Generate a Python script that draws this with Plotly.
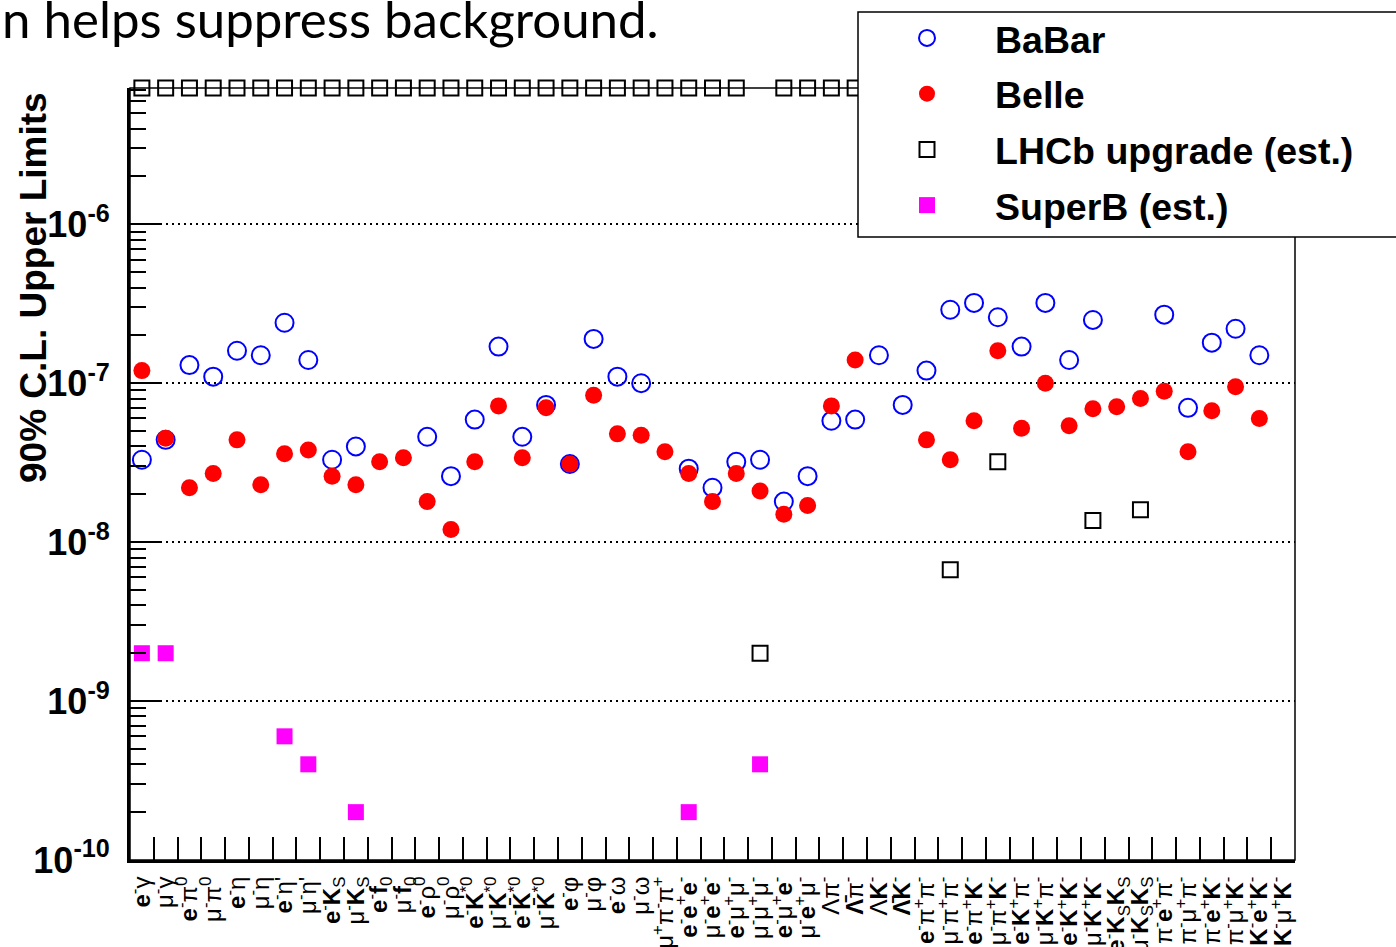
import math
import plotly.graph_objects as go

# ---------------- data ----------------
categories = [
    "<b>e</b><sup>-</sup>γ", "μ<sup>-</sup>γ",
    "<b>e</b><sup>-</sup>π<sup>0</sup>", "μ<sup>-</sup>π<sup>0</sup>",
    "<b>e</b><sup>-</sup>η", "μ<sup>-</sup>η",
    "<b>e</b><sup>-</sup>η'", "μ<sup>-</sup>η'",
    "<b>e</b><sup>-</sup><b>K</b><sub>S</sub>", "μ<sup>-</sup><b>K</b><sub>S</sub>",
    "<b>e</b><sup>-</sup><b>f</b><sub>0</sub>", "μ<sup>-</sup><b>f</b><sub>0</sub>",
    "<b>e</b><sup>-</sup>ρ<sup>0</sup>", "μ<sup>-</sup>ρ<sup>0</sup>",
    "<b>e</b><sup>-</sup><b>K</b><sup>*0</sup>", "μ<sup>-</sup><b>K</b><sup>*0</sup>",
    "<b>e</b><sup>-</sup><b>K̄</b><sup>*0</sup>", "μ<sup>-</sup><b>K̄</b><sup>*0</sup>",
    "<b>e</b><sup>-</sup>φ", "μ<sup>-</sup>φ",
    "<b>e</b><sup>-</sup>ω", "μ<sup>-</sup>ω",
    "μ<sup>+</sup>π<sup>-</sup>π<sup>+</sup>",
    "<b>e</b><sup>-</sup><b>e</b><sup>+</sup><b>e</b><sup>-</sup>",
    "μ<sup>-</sup><b>e</b><sup>+</sup><b>e</b><sup>-</sup>",
    "<b>e</b><sup>-</sup>μ<sup>+</sup>μ<sup>-</sup>",
    "μ<sup>-</sup>μ<sup>+</sup>μ<sup>-</sup>",
    "<b>e</b><sup>-</sup>μ<sup>+</sup><b>e</b><sup>-</sup>",
    "μ<sup>-</sup><b>e</b><sup>+</sup>μ<sup>-</sup>",
    "Λπ<sup>-</sup>", "<b>Λ̄</b>π<sup>-</sup>",
    "Λ<b>K</b><sup>-</sup>", "<b>Λ̄K</b><sup>-</sup>",
    "<b>e</b><sup>-</sup>π<sup>+</sup>π<sup>-</sup>",
    "μ<sup>-</sup>π<sup>+</sup>π<sup>-</sup>",
    "<b>e</b><sup>-</sup>π<sup>+</sup><b>K</b><sup>-</sup>",
    "μ<sup>-</sup>π<sup>+</sup><b>K</b><sup>-</sup>",
    "<b>e</b><sup>-</sup><b>K</b><sup>+</sup>π<sup>-</sup>",
    "μ<sup>-</sup><b>K</b><sup>+</sup>π<sup>-</sup>",
    "<b>e</b><sup>-</sup><b>K</b><sup>+</sup><b>K</b><sup>-</sup>",
    "μ<sup>-</sup><b>K</b><sup>+</sup><b>K</b><sup>-</sup>",
    "<b>e</b><sup>-</sup><b>K</b><sub>S</sub><b>K</b><sub>S</sub>",
    "μ<sup>-</sup><b>K</b><sub>S</sub><b>K</b><sub>S</sub>",
    "π<sup>-</sup><b>e</b><sup>+</sup>π<sup>-</sup>",
    "π<sup>-</sup>μ<sup>+</sup>π<sup>-</sup>",
    "π<sup>-</sup><b>e</b><sup>+</sup><b>K</b><sup>-</sup>",
    "π<sup>-</sup>μ<sup>+</sup><b>K</b><sup>-</sup>",
    "<b>K</b><sup>-</sup><b>e</b><sup>+</sup><b>K</b><sup>-</sup>",
    "<b>K</b><sup>-</sup>μ<sup>+</sup><b>K</b><sup>-</sup>",
]

babar = [
    3.3e-8, 4.4e-8, 1.3e-7, 1.1e-7, 1.6e-7, 1.5e-7, 2.4e-7, 1.4e-7,
    3.3e-8, 4.0e-8, None, None, 4.6e-8, 2.6e-8, 5.9e-8, 1.7e-7,
    4.6e-8, 7.3e-8, 3.1e-8, 1.9e-7, 1.1e-7, 1.0e-7, None,
    2.9e-8, 2.2e-8, 3.2e-8, 3.3e-8, 1.8e-8, 2.6e-8,
    5.8e-8, 5.9e-8, 1.5e-7, 7.3e-8,
    1.2e-7, 2.9e-7, 3.2e-7, 2.6e-7, 1.7e-7, 3.2e-7, 1.4e-7, 2.5e-7,
    None, None, 2.7e-7, 7.0e-8, 1.8e-7, 2.2e-7, 1.5e-7, None,
]

belle = [
    1.2e-7, 4.5e-8, 2.2e-8, 2.7e-8, 4.4e-8, 2.3e-8, 3.6e-8, 3.8e-8,
    2.6e-8, 2.3e-8, 3.2e-8, 3.4e-8, 1.8e-8, 1.2e-8, 3.2e-8, 7.2e-8,
    3.4e-8, 7.0e-8, 3.1e-8, 8.4e-8, 4.8e-8, 4.7e-8, 3.7e-8,
    2.7e-8, 1.8e-8, 2.7e-8, 2.1e-8, 1.5e-8, 1.7e-8,
    7.2e-8, 1.4e-7, None, None,
    4.4e-8, 3.3e-8, 5.8e-8, 1.6e-7, 5.2e-8, 1.0e-7, 5.4e-8, 6.9e-8,
    7.1e-8, 8.0e-8, 8.9e-8, 3.7e-8, 6.7e-8, 9.5e-8, 6.0e-8, None,
]

# LHCb upgrade estimates; entries drawn on the upper frame edge are off-scale (7.2e-6 = top of axis)
lhcb = [
    7.2e-6, 7.2e-6, 7.2e-6, 7.2e-6, 7.2e-6, 7.2e-6, 7.2e-6, 7.2e-6,
    7.2e-6, 7.2e-6, 7.2e-6, 7.2e-6, 7.2e-6, 7.2e-6, 7.2e-6, 7.2e-6,
    7.2e-6, 7.2e-6, 7.2e-6, 7.2e-6, 7.2e-6, 7.2e-6, 7.2e-6,
    7.2e-6, 7.2e-6, 7.2e-6, 2.0e-9, 7.2e-6, 7.2e-6,
    7.2e-6, 7.2e-6, None, None,
    None, 6.7e-9, None, 3.2e-8, None, None, None, 1.37e-8,
    None, 1.6e-8, None, None, None, None, None, None,
]

superb = [
    2.0e-9, 2.0e-9, None, None, None, None, 6.0e-10, 4.0e-10,
    None, 2.0e-10, None, None, None, None, None, None,
    None, None, None, None, None, None, None,
    2.0e-10, None, None, 4.0e-10, None, None,
    None, None, None, None,
    None, None, None, None, None, None, None, None,
    None, None, None, None, None, None, None, None,
]

y_min, y_max = 1e-10, 7.2e-6
decades = [1e-10, 1e-9, 1e-8, 1e-7, 1e-6]
decade_labels = ["<b>10<sup>-10</sup></b>", "<b>10<sup>-9</sup></b>", "<b>10<sup>-8</sup></b>",
                 "<b>10<sup>-7</sup></b>", "<b>10<sup>-6</sup></b>"]

# ---------------- geometry ----------------
W, H = 1396, 947
ML, MR, MT, MB = 130, 101, 88, 87
PW, PH = W - ML - MR, H - MT - MB


def px(x):
    return (x - ML) / PW


def py(y):
    return (H - MB - y) / PH


FONT = "Liberation Sans, Arial, Helvetica, sans-serif"

fig = go.Figure()
fig.add_trace(go.Scatter(
    x=categories, y=babar, mode="markers", name="BaBar", legendgroup="a",
    marker=dict(symbol="circle-open", size=18, color="#0000ff", line=dict(width=2, color="#0000ff")),
))
fig.add_trace(go.Scatter(
    x=categories, y=belle, mode="markers", name="Belle", legendgroup="b",
    marker=dict(symbol="circle", size=17, color="#ff0000"),
))
fig.add_trace(go.Scatter(
    x=categories, y=lhcb, mode="markers", name="LHCb upgrade (est.)", legendgroup="c",
    cliponaxis=False,
    marker=dict(symbol="square-open", size=15, color="black", line=dict(width=2, color="black")),
))
fig.add_trace(go.Scatter(
    x=categories, y=superb, mode="markers", name="SuperB (est.)", legendgroup="d",
    marker=dict(symbol="square", size=16, color="#ff00ff"),
))

minor_vals = [m * d for d in decades for m in range(2, 10)]

fig.update_layout(
    width=W, height=H,
    margin=dict(l=ML, r=MR, t=MT, b=MB, autoexpand=False),
    paper_bgcolor="white", plot_bgcolor="white",
    font=dict(family=FONT, color="black"),
    showlegend=True,
    legend=dict(
        x=px(859), y=py(7), xanchor="left", yanchor="top",
        bgcolor="rgba(0,0,0,0)", borderwidth=0,
        font=dict(family=FONT, size=37.5, weight="bold", color="black"),
        itemwidth=126, tracegroupgap=4, traceorder="grouped",
    ),
    xaxis=dict(
        type="category", categoryorder="array", categoryarray=categories,
        range=[-0.5, len(categories) - 0.5],
        tickmode="linear", tick0=0, dtick=1,
        tickson="boundaries", ticks="inside", ticklen=23, tickwidth=2, tickcolor="black",
        showline=True, linewidth=3, linecolor="black", showgrid=False, zeroline=False,
        tickangle=-90, tickfont=dict(family=FONT, size=24, color="black"),
        ticklabelstandoff=4,
    ),
    yaxis=dict(
        type="log", range=[math.log10(y_min), math.log10(y_max) + 1e-4],
        tickmode="array", tickvals=decades, ticktext=decade_labels,
        ticks="inside", ticklen=30, tickwidth=2, tickcolor="black",
        tickfont=dict(family=FONT, size=36, color="black"),
        ticklabelstandoff=10,
        showline=True, linewidth=3, linecolor="black",
        showgrid=True, gridcolor="black", gridwidth=2, griddash="2px,4px",
        minor=dict(tickvals=minor_vals, ticks="inside", ticklen=16, tickwidth=2,
                   tickcolor="black", showgrid=False),
    ),
    shapes=[
        dict(type="rect", xref="paper", yref="paper", x0=0, x1=1, y0=0, y1=1,
             line=dict(color="black", width=1.5), fillcolor="rgba(0,0,0,0)", layer="above"),
        dict(type="rect", xref="paper", yref="paper", x0=px(858), x1=px(1405), y0=py(237), y1=py(12),
             line=dict(color="black", width=1.5), fillcolor="white", layer="above"),
    ],
    annotations=[
        dict(text="<b>90% C.L. Upper Limits</b>", xref="paper", yref="paper",
             x=px(33), y=py(288), xanchor="center", yanchor="middle", textangle=-90,
             showarrow=False, font=dict(family=FONT, size=37, color="black")),
        dict(text="n helps suppress background.", xref="paper", yref="paper",
             x=px(0), y=py(-14), xanchor="left", yanchor="top",
             showarrow=False, font=dict(family="Lato, Open Sans, sans-serif", size=51, color="black")),
    ],
)

fig.write_html("out.html")
